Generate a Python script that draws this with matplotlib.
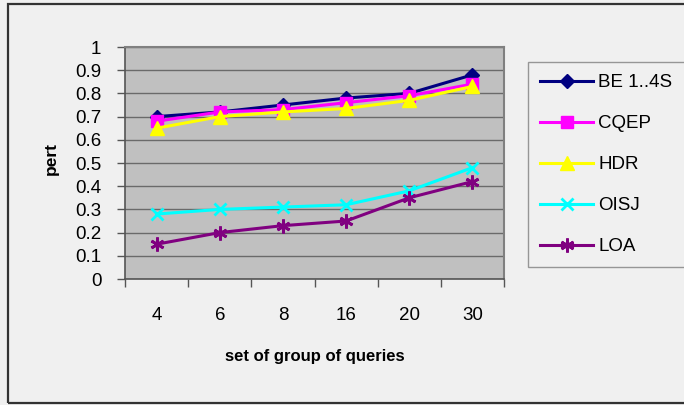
import matplotlib
matplotlib.use("Agg")
import matplotlib.pyplot as plt
from matplotlib.patches import Rectangle
import numpy as np

plt.rcParams['font.family'] = ['Liberation Sans', 'DejaVu Sans']

groups = ["4", "6", "8", "16", "20", "30"]
series_names = ["BE 1..4S", "CQEP", "HDR", "OISJ", "LOA"]
be_14s = [0.70, 0.72, 0.75, 0.78, 0.80, 0.88]
cqep = [0.68, 0.72, 0.73, 0.76, 0.79, 0.84]
hdr = [0.65, 0.70, 0.72, 0.735, 0.77, 0.83]
oisj = [0.28, 0.30, 0.31, 0.32, 0.38, 0.48]
loa = [0.15, 0.20, 0.23, 0.25, 0.35, 0.42]
y_ticks = [0, 0.1, 0.2, 0.3, 0.4, 0.5, 0.6, 0.7, 0.8, 0.9, 1]
y_tick_labels = ["0", "0.1", "0.2", "0.3", "0.4", "0.5", "0.6", "0.7", "0.8", "0.9", "1"]

styles = [
    dict(color="#000080", marker="D", markersize=7, mfc="#000080", mec="#000080"),
    dict(color="#ff00ff", marker="s", markersize=8.5, mfc="#ff00ff", mec="#ff00ff"),
    dict(color="#ffff00", marker="^", markersize=10, mfc="#ffff00", mec="#ffff00"),
    dict(color="#00ffff", marker="x", markersize=8, mew=2),
    dict(color="#800080", marker=(6, 2, 0), markersize=10, mew=2),
]

bg = "#f0f0f0"
fs = 13.5
fig = plt.figure(figsize=(6.84, 4.05), dpi=100, facecolor=bg)
ax = fig.add_axes([125 / 684, 1 - 279 / 405, (504 - 125) / 684, (279 - 47) / 405])
ax.set_facecolor("#c0c0c0")

x = np.arange(len(groups))
for name, vals, st in zip(series_names, [be_14s, cqep, hdr, oisj, loa], styles):
    ax.plot(x, vals, lw=2.2, label=name, clip_on=False, **st)

ax.set_xlim(-0.5, len(groups) - 0.5)
ax.set_ylim(0, 1)
ax.set_yticks(y_ticks)
ax.set_yticklabels(y_tick_labels)
ax.yaxis.grid(True, color="#6a6a6a", lw=1)
ax.set_axisbelow(True)

# category boundaries carry tick marks, centers carry labels
ax.set_xticks(np.arange(-0.5, len(groups), 1.0))
ax.set_xticklabels([])
ax.set_xticks(x, minor=True)
ax.set_xticklabels(groups, minor=True)
ax.tick_params(axis="x", which="minor", length=0, pad=20, labelsize=fs)
ax.tick_params(axis="x", which="major", length=6, color="#555555", width=1)
ax.tick_params(axis="y", length=6, color="#555555", width=1, labelsize=fs, pad=11)

for side in ["top", "right"]:
    ax.spines[side].set_color("#808080")
    ax.spines[side].set_linewidth(1.5)
for side in ["left", "bottom"]:
    ax.spines[side].set_color("#555555")
    ax.spines[side].set_linewidth(1.2)

ax.set_xlabel("set of group of queries", fontsize=12, fontweight="bold", labelpad=18)
ax.set_ylabel("pert", fontsize=12.5, fontweight="bold")
ax.yaxis.set_label_coords(-0.175, 0.52)

leg = fig.legend(loc="upper left", bbox_to_anchor=(528 / 684, 1 - 62 / 405),
                 frameon=True, fancybox=False, fontsize=fs, handlelength=2.83,
                 labelspacing=1.27, borderpad=0.65, handletextpad=0.27,
                 borderaxespad=0)
leg.get_frame().set_edgecolor("#808080")
leg.get_frame().set_facecolor(bg)
leg.get_frame().set_linewidth(1)

fig.patches.append(Rectangle((8 / 684, 1 - 403 / 405), 690 / 684, 399 / 405,
                             transform=fig.transFigure, fill=False,
                             edgecolor="#333333", lw=1.6))

fig.savefig("out.png", dpi=100, facecolor=bg)
